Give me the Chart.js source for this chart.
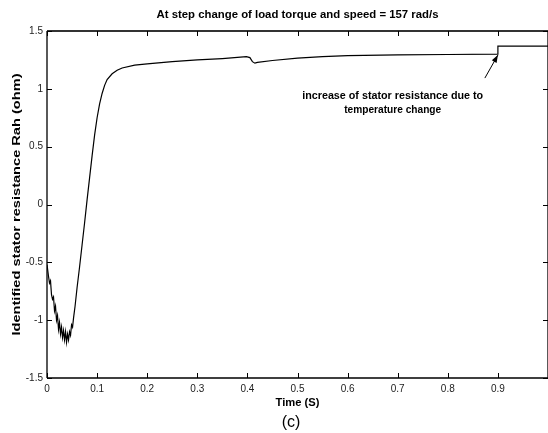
<!DOCTYPE html>
<html>
<head>
<meta charset="utf-8">
<script src="https://cdn.jsdelivr.net/npm/chart.js@4.4.1/dist/chart.umd.min.js"></script>
<style>
html,body{margin:0;padding:0;background:#fff;}
#wrap{width:548px;height:433px;}
</style>
</head>
<body>
<div id="wrap"><canvas id="c" width="548" height="433"></canvas></div>
<script>
// ---- data ----
const timeS = [0.000,0.003,0.005,0.007,0.009,0.011,0.013,0.015,0.017,0.019,0.021,0.023,0.025,0.027,0.029,0.031,0.033,0.035,0.037,0.039,0.041,0.043,0.045,0.047,0.049,0.051,0.053,0.056,0.060,0.065,0.070,0.075,0.080,0.085,0.090,0.095,0.100,0.105,0.110,0.115,0.120,0.130,0.140,0.150,0.175,0.200,0.250,0.300,0.350,0.398,0.405,0.410,0.415,0.420,0.450,0.500,0.550,0.600,0.700,0.800,0.899,0.900,1.000];
const rahOhm = [-0.52,-0.62,-0.68,-0.66,-0.78,-0.82,-0.80,-0.92,-0.88,-1.00,-0.96,-1.08,-1.02,-1.12,-1.06,-1.15,-1.09,-1.17,-1.10,-1.19,-1.12,-1.17,-1.10,-1.13,-1.04,-1.06,-0.98,-0.88,-0.72,-0.54,-0.35,-0.16,0.04,0.23,0.42,0.60,0.75,0.87,0.96,1.03,1.08,1.13,1.16,1.18,1.205,1.215,1.235,1.25,1.262,1.278,1.27,1.235,1.222,1.228,1.245,1.265,1.278,1.287,1.293,1.297,1.30,1.37,1.37];
const xTickVals = [0,0.1,0.2,0.3,0.4,0.5,0.6,0.7,0.8,0.9,1.0];
const xTickLabels = ['0','0.1','0.2','0.3','0.4','0.5','0.6','0.7','0.8','0.9',''];
const yTickVals = [-1.5,-1,-0.5,0,0.5,1,1.5];
const yTickLabels = ['-1.5','-1','-0.5','0','0.5','1','1.5'];
const titleText = 'At step change of load torque and speed = 157 rad/s';
const xTitle = 'Time (S)';
const yTitle = 'Identified stator resistance Rah (ohm)';
const caption = '(c)';
const noteLines = ['increase of stator resistance due to','temperature change'];

const FONT = '"Liberation Sans", Arial, sans-serif';
Chart.defaults.font.family = FONT;

function fitText(ctx, txt, cx, cy, targetW, font, rot){
  ctx.save();
  ctx.font = font;
  ctx.textAlign = 'center';
  ctx.textBaseline = 'middle';
  const w = ctx.measureText(txt).width;
  ctx.translate(cx, cy);
  if (rot) ctx.rotate(rot);
  if (targetW) ctx.scale(targetW / w, 1);
  ctx.fillText(txt, 0, 0);
  ctx.restore();
}

const decor = {
  id: 'decor',
  afterDraw(chart){
    const ctx = chart.ctx;
    const xs = chart.scales.x, ys = chart.scales.y;
    const a = chart.chartArea;
    ctx.save();
    ctx.strokeStyle = '#000';
    ctx.lineWidth = 1.3;
    ctx.beginPath();
    ctx.moveTo(a.left, a.bottom); ctx.lineTo(a.right, a.bottom);
    ctx.moveTo(a.left, a.top); ctx.lineTo(a.left, a.bottom);
    ctx.moveTo(a.right, a.top); ctx.lineTo(a.right, a.bottom);
    ctx.stroke();
    ctx.strokeStyle = '#333';
    ctx.lineWidth = 2;
    ctx.beginPath();
    ctx.moveTo(a.left, a.top); ctx.lineTo(a.right, a.top);
    ctx.stroke();
    ctx.strokeStyle = '#000';
    ctx.lineWidth = 1;
    ctx.beginPath();
    xTickVals.forEach(v => {
      const px = Math.round(xs.getPixelForValue(v)) + 0.5;
      ctx.moveTo(px, a.bottom); ctx.lineTo(px, a.bottom - 5);
      ctx.moveTo(px, a.top); ctx.lineTo(px, a.top + 5);
    });
    yTickVals.forEach(v => {
      const py = Math.round(ys.getPixelForValue(v)) + 0.5;
      ctx.moveTo(a.left, py); ctx.lineTo(a.left + 5, py);
      ctx.moveTo(a.right, py); ctx.lineTo(a.right - 5, py);
    });
    ctx.stroke();
    ctx.fillStyle = '#000';
    const mid = (a.left + a.right) / 2;
    fitText(ctx, titleText, mid, 15, 282, 'bold 11px ' + FONT);
    fitText(ctx, xTitle, mid, 403, 44, 'bold 11px ' + FONT);
    fitText(ctx, caption, 291, 423, null, '16px ' + FONT);
    fitText(ctx, yTitle, 17, (a.top + a.bottom) / 2, 262, 'bold 11px ' + FONT, -Math.PI / 2);
    fitText(ctx, noteLines[0], xs.getPixelForValue(0.69), ys.getPixelForValue(0.94), 181, 'bold 11px ' + FONT);
    fitText(ctx, noteLines[1], xs.getPixelForValue(0.69), ys.getPixelForValue(0.815), 97, 'bold 11px ' + FONT);
    const x0 = xs.getPixelForValue(0.874), y0 = ys.getPixelForValue(1.093);
    const x1 = xs.getPixelForValue(0.9), y1 = ys.getPixelForValue(1.292);
    ctx.strokeStyle = '#000';
    ctx.lineWidth = 1;
    ctx.beginPath(); ctx.moveTo(x0, y0); ctx.lineTo(x1, y1); ctx.stroke();
    const ang = Math.atan2(y1 - y0, x1 - x0);
    ctx.beginPath();
    ctx.moveTo(x1, y1);
    ctx.lineTo(x1 - 8 * Math.cos(ang - 0.35), y1 - 8 * Math.sin(ang - 0.35));
    ctx.lineTo(x1 - 8 * Math.cos(ang + 0.35), y1 - 8 * Math.sin(ang + 0.35));
    ctx.closePath(); ctx.fill();
    ctx.restore();
  }
};

new Chart(document.getElementById('c'), {
  type: 'line',
  data: {
    datasets: [{
      data: timeS.map((t, i) => ({x: t, y: rahOhm[i]})),
      borderColor: '#000',
      borderWidth: 1.2,
      pointRadius: 0,
      tension: 0,
      fill: false
    }]
  },
  options: {
    responsive: false,
    animation: false,
    events: [],
    layout: {padding: {top: 31, right: 0, left: 0, bottom: 0}},
    plugins: {legend: {display: false}, title: {display: false}, tooltip: {enabled: false}},
    scales: {
      x: {
        type: 'linear', min: 0, max: 1,
        grid: {display: false, drawTicks: false},
        border: {display: false},
        afterBuildTicks: s => { s.ticks = xTickVals.map(v => ({value: v})); },
        afterFit: s => { s.height = 55; s.paddingRight = 0; s.paddingLeft = 0; },
        ticks: {
          autoSkip: false, maxRotation: 0, padding: 5,
          color: '#222', font: {size: 10},
          callback: (v, i) => xTickLabels[i]
        }
      },
      y: {
        min: -1.5, max: 1.5,
        grid: {display: false, drawTicks: false},
        border: {display: false},
        afterBuildTicks: s => { s.ticks = yTickVals.map(v => ({value: v})); },
        afterFit: s => { s.width = 47; },
        ticks: {
          autoSkip: false, padding: 4,
          color: '#222', font: {size: 10},
          callback: (v, i) => yTickLabels[i]
        }
      }
    }
  },
  plugins: [decor]
});
</script>
</body>
</html>
